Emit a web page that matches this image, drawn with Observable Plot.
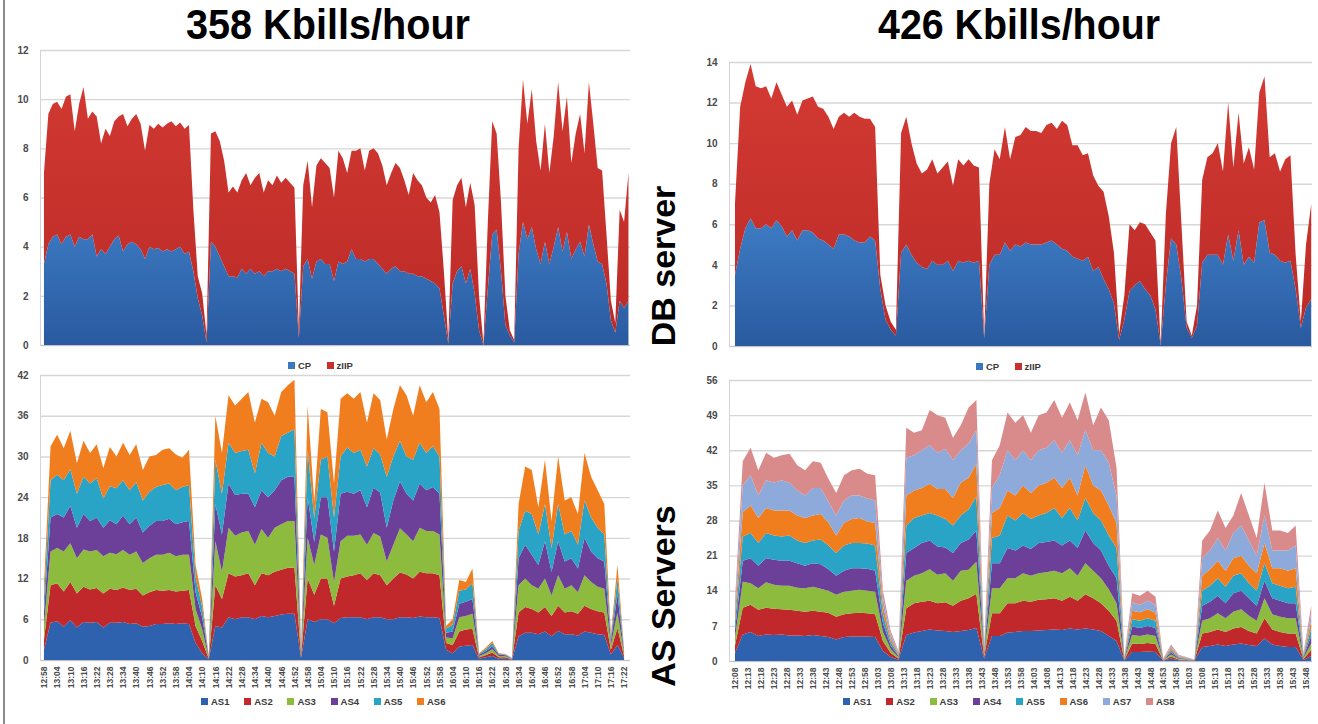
<!DOCTYPE html>
<html><head><meta charset="utf-8">
<script src="https://cdn.jsdelivr.net/npm/d3@7"></script>
<script src="https://cdn.jsdelivr.net/npm/@observablehq/plot@0.6"></script>
<style>
html,body{margin:0;padding:0;background:#fff;}
body{width:1318px;height:724px;overflow:hidden;position:relative;font-family:"Liberation Sans",Arial,sans-serif;}
.panel{position:absolute;}
.leg{position:absolute;height:12px;display:flex;align-items:center;font:bold 9.5px "Liberation Sans",Arial,sans-serif;color:#3a3a3a;white-space:nowrap;}
.leg span{display:inline-block;width:7px;height:7px;margin-right:3px;}
</style></head><body>
<div style="position:absolute;left:3px;top:0;width:1.5px;height:724px;background:#8c8c8c"></div>
<script>
// ---------------- DATA ----------------
const titles = ["358 Kbills/hour", "426 Kbills/hour"];
const rowLabels = ["DB server", "AS Servers"];
const dbSeries = ["CP", "zIIP"];
const asSeriesLeft = ["AS1","AS2","AS3","AS4","AS5","AS6"];
const asSeriesRight = ["AS1","AS2","AS3","AS4","AS5","AS6","AS7","AS8"];

// minutes between samples
const dbStep = 2, asStep = 3;

const leftTimeLabels = ["12:58","13:04","13:10","13:16","13:22","13:28","13:34","13:40","13:46","13:52","13:58","14:04","14:10","14:16","14:22","14:28","14:34","14:40","14:46","14:52","14:58","15:04","15:10","15:16","15:22","15:28","15:34","15:40","15:46","15:52","15:58","16:04","16:10","16:16","16:22","16:28","16:34","16:40","16:46","16:52","16:58","17:04","17:10","17:16","17:22"];
const rightTimeLabels = ["12:08","12:13","12:18","12:23","12:28","12:33","12:38","12:43","12:48","12:53","12:58","13:03","13:08","13:13","13:18","13:23","13:28","13:33","13:38","13:43","13:48","13:53","13:58","14:03","14:08","14:13","14:18","14:23","14:28","14:33","14:38","14:43","14:48","14:53","14:58","15:03","15:08","15:13","15:18","15:23","15:28","15:33","15:38","15:43","15:48"];

const yTicksDbLeft = [0,2,4,6,8,10,12];
const yTicksDbRight = [0,2,4,6,8,10,12,14];
const yTicksAsLeft = [0,6,12,18,24,30,36,42];
const yTicksAsRight = [0,7,14,21,28,35,42,49,56];

// DB server, 358 Kbills/hour (every 2 min from 12:58)
const dbLeftCP = [3.3,4.1,4.4,4.5,4.1,4.4,4.5,4.0,4.4,4.3, 4.3,4.5,3.6,3.9,3.7,4.0,4.3,4.45,3.8,4.1, 4.2,4.1,3.9,3.5,4.0,3.9,3.95,3.8,3.9,3.8, 3.9,4.0,3.7,3.8,3.0,1.9,1.2,0.1,4.2,4.0, 3.6,3.2,2.8,2.8,2.75,3.1,2.9,3.1,2.9,3.0, 2.8,3.0,3.0,3.1,3.0,3.1,3.0,2.9,0.3,3.2, 3.5,2.7,3.4,3.5,3.3,3.3,2.6,3.4,3.3,3.4, 3.9,3.5,3.5,3.4,3.5,3.5,3.3,3.1,2.9,3.1, 3.2,3.0,3.0,2.9,2.9,2.8,2.8,2.7,2.6,2.5, 2.3,1.2,0.05,2.5,3.0,3.2,2.5,3.1,2.1,0.6, 0,2.3,4.5,4.7,3.0,0.8,0.4,0.1,3.7,5.0, 4.3,4.8,3.9,3.3,4.2,3.3,4.0,4.8,3.8,4.6, 3.5,3.9,4.2,3.6,4.9,4.1,3.4,3.3,2.5,1.0, 0.5,1.8,1.5,1.8];
const dbLeftZIIP = [3.7,5.3,5.4,5.4,5.5,5.7,5.7,4.7,5.4,6.2, 4.9,5.0,5.7,4.3,5.1,4.5,4.8,4.85,5.6,4.8, 5.0,5.3,5.1,4.4,4.95,4.9,5.05,5.05,5.1,5.3, 5.0,5.05,5.1,5.15,2.5,0.9,0.9,0.3,4.4,4.7, 4.7,4.3,3.4,3.65,3.45,3.6,4.1,3.4,3.9,4.0, 3.4,3.7,3.5,3.8,3.6,3.7,3.6,3.5,0.3,3.3, 4.0,2.9,3.9,4.1,4.1,3.9,3.4,4.5,4.3,3.6, 4.0,4.4,4.5,3.7,4.4,4.5,4.5,4.2,3.6,3.9, 4.2,4.2,3.7,3.2,4.1,3.9,3.7,3.3,3.2,3.6, 3.1,1.8,0.15,3.4,3.5,3.6,3.1,3.5,3.6,1.4, 0.05,2.7,4.6,3.9,2.8,1.2,0.2,0.1,4.3,5.8, 4.7,5.6,4.4,3.8,4.8,3.7,4.5,5.9,4.9,5.5, 3.9,4.7,5.2,4.2,5.8,4.9,3.8,3.8,2.0,0.8, 0.4,3.7,3.5,5.2];

// DB server, 426 Kbills/hour (every 2 min from 12:08)
const dbRightCP = [3.5,4.8,5.8,6.3,5.8,5.8,6.0,5.8,6.2,5.9, 5.4,5.7,5.2,5.7,5.7,5.6,5.3,5.2,5.0,4.8, 5.5,5.5,5.4,5.2,5.1,5.1,5.4,5.2,2.8,1.3, 0.8,0.5,4.6,5.0,4.5,4.1,3.9,3.8,4.2,4.0, 4.0,4.2,3.7,4.2,4.1,4.2,4.1,4.2,0.4,4.0, 4.5,4.5,5.1,4.7,5.0,4.9,5.1,5.0,5.0,5.0, 5.1,5.2,5.0,4.8,4.7,4.4,4.3,4.2,4.4,3.7, 3.9,3.3,2.8,2.1,0.3,1.3,2.7,3.0,3.2,2.8, 2.5,1.8,0.05,3.0,5.3,5.0,3.3,0.9,0.4,1.0, 4.1,4.5,4.5,4.5,4.0,5.5,4.2,5.7,4.0,4.4, 4.1,6.1,6.2,4.6,4.5,4.2,4.1,4.2,2.8,0.9, 1.9,2.3];
const dbRightZIIP = [3.5,7.0,7.2,7.6,7.0,6.9,6.8,6.4,6.8,6.5, 6.4,6.4,6.2,6.4,6.5,6.7,6.5,6.5,6.3,5.9, 5.8,6.0,5.9,6.3,6.2,6.1,5.8,5.6,0.7,0.7, 0.4,0.3,5.9,6.3,5.5,4.9,4.6,4.9,5.0,4.5, 4.8,4.9,4.2,5.0,4.8,5.0,4.8,4.6,0.1,4.0, 5.2,4.7,5.7,4.5,5.3,5.5,5.7,5.6,5.6,5.5, 5.8,5.8,5.7,6.3,6.2,5.5,5.6,5.2,5.1,4.7, 4.0,4.3,3.6,2.5,0.3,1.2,3.3,2.7,2.9,3.2, 3.1,3.4,0.05,3.5,4.7,5.8,2.7,0.3,0.1,1.0, 4.1,4.8,5.0,5.5,4.6,6.5,4.6,5.8,5.0,5.4, 4.6,6.4,7.1,4.7,5.0,4.4,5.1,5.2,1.7,0.3, 3.1,4.7];

// AS servers, 358 Kbills/hour (every 3 min from 12:58)
const asL1 = [1.5,5.5,5.7,4.9,5.9,4.8,5.6,5.5,5.6,4.8, 5.5,5.5,5.6,5.3,5.4,4.9,5.0,5.3,5.3,5.4, 5.3,5.4,5.3,2.5,1.0,0.1,5.0,4.8,6.3,6.0, 6.3,6.3,6.0,6.5,6.3,6.5,6.7,6.8,6.8,0.3, 6.0,5.6,6.0,6.0,5.4,6.2,6.3,6.3,6.3,6.0, 6.3,6.3,6.0,6.0,6.3,6.3,6.2,6.4,6.3,6.3, 6.2,1.5,1.0,2.0,2.1,2.2,0.2,0.4,0.6,0.2, 0.2,0.05,3.5,4.0,4.0,3.8,4.2,3.5,4.3,3.8, 3.8,3.6,4.2,4.0,3.8,3.7,0.8,2.2,0.3];
const asL2 = [1.5,5.5,5.6,5.2,5.6,5.0,5.2,4.9,5.0,5.0, 5.0,4.8,5.1,5.0,5.1,4.6,5.0,5.0,4.9,4.9, 4.8,4.8,5.0,2.5,1.8,0.1,6.0,4.2,6.5,6.3, 6.2,6.5,5.0,6.3,6.2,6.5,6.6,6.8,6.8,0.3, 6.0,4.0,6.0,6.0,2.6,5.8,6.0,6.2,6.5,5.8, 6.5,6.2,5.0,6.0,6.6,6.3,5.8,6.6,6.5,6.5, 6.3,1.0,1.2,2.2,2.4,2.4,0.2,0.3,0.5,0.2, 0.2,0.05,3.5,3.8,3.5,3.2,3.6,3.0,3.7,3.2, 3.4,3.2,3.8,3.5,3.4,3.3,0.7,2.5,0.3];
const asL3 = [2.0,5.0,5.2,5.9,5.7,5.2,5.5,5.6,5.6,5.5, 5.3,5.3,5.5,5.2,5.5,4.8,5.0,5.2,5.3,5.5, 5.2,5.3,5.2,2.5,1.7,0.1,6.5,4.0,6.7,6.0, 6.3,6.2,6.0,6.5,5.5,6.5,6.7,6.9,6.9,0.3, 6.0,4.4,6.5,6.0,3.5,5.5,6.0,5.8,5.7,5.2, 5.9,5.7,3.5,5.0,6.5,5.9,5.5,6.5,6.2,6.2, 6.0,0.8,1.0,2.1,2.0,2.2,0.2,0.3,0.5,0.2, 0.15,0.05,4.0,4.2,3.5,3.5,4.2,3.0,4.5,3.5, 3.8,3.2,4.5,4.0,3.6,3.5,0.7,2.3,0.3];
const asL4 = [2.0,5.0,5.0,5.0,5.5,4.5,5.2,4.5,4.8,4.2, 4.8,4.4,5.1,4.5,5.0,4.5,4.8,5.0,5.0,5.0, 4.7,4.8,5.0,2.5,1.8,0.1,5.5,5.5,6.5,6.0, 5.7,5.5,5.5,5.7,6.0,5.5,6.5,6.5,6.5,0.2, 6.0,3.4,5.5,6.0,4.5,7.0,6.5,6.2,6.5,5.5, 6.7,6.5,5.0,6.5,6.9,6.0,6.0,6.5,6.0,6.5, 6.0,0.7,1.0,2.0,2.1,2.2,0.2,0.3,0.4,0.2, 0.15,0.05,4.0,5.0,4.5,3.5,5.5,3.5,5.0,4.0, 4.0,3.5,5.5,4.5,4.2,4.0,0.6,2.6,0.2];
const asL5 = [2.0,5.5,5.8,5.5,5.4,5.0,5.5,5.5,5.8,4.3, 5.0,5.3,5.2,5.0,5.2,4.7,5.0,5.0,5.3,5.2, 5.0,5.2,5.3,2.2,1.5,0.05,6.5,6.0,6.0,6.2, 6.3,6.5,5.0,7.0,6.5,5.0,6.5,6.5,7.0,0.2, 7.0,3.5,5.5,6.0,5.0,5.5,6.5,6.0,6.0,6.0, 5.8,5.6,7.5,6.5,6.0,5.5,6.0,6.0,5.5,6.0, 5.5,0.6,1.0,1.9,1.8,2.3,0.1,0.3,0.5,0.1, 0.1,0.05,4.0,5.0,6.0,4.5,5.5,3.5,5.5,4.0, 4.0,3.5,5.5,5.0,4.5,4.0,0.5,2.4,0.2];
const asL6 = [2.0,5.0,5.9,4.7,5.7,4.5,5.3,4.5,5.0,4.5, 5.8,4.7,5.5,5.2,5.6,4.5,5.2,4.7,5.2,5.2, 5.3,4.3,5.2,1.8,1.2,0.05,6.5,6.0,7.0,7.0, 7.7,8.5,7.5,6.5,7.5,6.0,6.5,7.0,7.3,0.2, 6.5,2.4,7.5,6.5,5.0,8.5,8.0,8.0,8.5,6.5, 8.1,8.0,5.5,7.0,8.2,9.0,6.5,8.5,7.5,8.0, 7.0,0.4,0.8,1.6,1.1,2.2,0.1,0.2,0.3,0.1, 0.1,0.05,4.0,6.5,6.5,4.0,6.5,4.0,7.0,5.0, 5.0,4.5,7.0,6.0,5.5,4.5,0.5,2.0,0.2];

// AS servers, 426 Kbills/hour (every 3 min from 12:08)
const asR1 = [1.6,5.3,5.8,5.0,5.3,5.2,5.3,5.1,5.1,5.0, 5.2,5.0,4.8,4.3,4.8,4.9,4.9,4.9,4.8,2.0, 0.8,0.25,5.2,5.7,6.0,6.3,6.1,6.0,5.8,6.0, 6.2,6.6,0.5,5.0,5.0,5.7,5.8,6.0,6.0,6.1, 6.2,6.3,6.2,6.5,6.3,6.5,6.3,6.0,5.0,4.0, 0.1,1.8,1.8,1.9,1.8,0.06,0.5,0.15,0.1,0.04, 2.8,3.0,3.3,3.0,3.3,3.5,3.2,3.0,4.5,3.3, 3.0,2.8,2.8,0.2,1.0];
const asR2 = [1.5,5.3,5.4,5.2,5.3,5.2,5.0,5.1,4.9,4.8, 4.8,4.8,4.8,4.5,4.5,4.6,4.7,4.6,4.5,2.0, 0.8,0.25,5.3,5.8,5.8,5.7,5.4,5.7,5.2,6.0, 6.3,6.8,0.4,4.5,4.5,5.8,5.7,6.0,5.8,6.1, 6.1,6.2,5.8,6.3,5.7,6.8,6.2,5.5,5.0,4.0, 0.1,1.7,1.6,1.7,1.6,0.06,0.4,0.15,0.1,0.04, 2.7,2.8,3.0,2.8,3.2,3.3,2.8,2.5,4.0,3.0, 2.8,2.7,2.7,0.2,1.2];
const asR3 = [1.5,5.2,4.3,4.3,5.1,4.8,4.7,4.8,4.6,4.7, 4.8,4.6,4.4,4.4,4.5,4.5,4.6,4.5,4.5,1.8, 0.8,0.25,5.5,5.5,5.7,6.3,5.7,5.8,5.0,6.0, 5.7,6.4,0.4,5.0,5.0,5.0,5.0,5.5,5.2,5.3, 5.4,5.5,5.5,5.7,5.0,6.2,5.5,5.0,4.3,3.5, 0.1,1.7,1.6,1.7,1.6,0.06,0.4,0.15,0.1,0.04, 2.5,2.7,3.2,2.7,3.3,3.5,3.0,2.5,4.0,3.0, 3.0,3.0,3.0,0.2,1.3];
const asR4 = [1.5,4.2,5.0,4.5,4.8,5.0,5.0,5.0,4.9,4.5, 4.7,4.9,4.3,3.8,4.2,4.5,4.3,4.4,4.2,1.7, 0.7,0.25,5.5,5.5,6.0,5.7,5.6,5.1,5.5,5.5, 6.0,6.2,0.4,5.0,5.0,6.0,5.5,5.5,5.3,6.0, 6.0,6.0,5.5,5.5,5.5,6.5,5.5,5.5,4.7,5.0, 0.1,1.7,1.6,1.7,1.6,0.06,0.4,0.15,0.1,0.04, 3.0,3.3,3.5,3.0,3.7,3.7,3.5,3.0,3.5,3.2, 3.2,3.0,3.0,0.2,1.5];
const asR5 = [1.5,4.8,5.0,4.5,5.0,4.8,4.8,5.0,4.5,4.5, 4.5,4.9,4.7,4.5,5.0,5.0,5.0,5.0,5.0,1.8, 0.7,0.25,5.5,6.0,5.5,5.5,6.2,5.7,5.5,5.5, 6.0,6.8,0.4,5.0,5.5,6.5,6.0,6.5,6.0,5.5, 5.8,6.5,5.5,6.5,5.5,6.5,6.0,6.0,6.0,6.0, 0.1,1.4,1.4,1.5,1.4,0.06,0.4,0.15,0.1,0.04, 3.0,3.2,3.5,3.3,3.5,3.5,3.0,3.0,3.5,3.0, 3.0,3.0,3.3,0.2,1.5];
const asR6 = [1.5,4.8,5.5,5.0,5.0,5.0,5.2,5.0,5.0,5.0, 5.0,5.1,4.6,3.5,4.5,4.8,5.0,4.4,4.5,1.7, 0.7,0.25,6.0,5.5,5.5,5.8,5.3,6.0,5.5,6.5, 6.3,6.5,0.3,5.0,5.5,5.0,5.0,5.5,5.2,6.0, 6.0,6.0,6.0,6.0,5.0,6.5,5.5,6.0,6.0,5.0, 0.1,1.7,1.7,1.8,1.6,0.06,0.4,0.15,0.1,0.04, 3.0,3.3,3.5,3.2,3.5,3.5,3.5,3.5,4.0,3.0, 3.5,3.5,3.7,0.2,1.5];
const asR7 = [1.5,5.4,6.0,4.5,5.5,5.5,6.0,5.5,5.0,4.5, 5.5,5.2,4.2,4.0,4.5,4.7,4.5,4.6,4.5,1.6, 0.8,0.25,7.5,7.0,7.5,7.7,7.2,8.0,7.5,6.5, 6.8,6.7,0.3,5.0,6.5,8.0,7.0,7.0,6.5,7.0, 7.0,7.5,7.0,7.5,8.0,7.0,7.0,8.0,8.5,5.5, 0.1,1.7,1.5,1.7,1.6,0.06,0.4,0.15,0.1,0.04, 3.5,3.7,4.5,4.0,5.0,6.0,5.0,3.5,5.5,3.5, 3.5,4.0,4.5,0.2,1.5];
const asR8 = [1.4,4.8,5.5,5.0,5.5,5.0,5.0,5.8,5.0,5.0, 5.3,5.0,4.5,4.5,5.0,5.0,5.3,4.9,5.0,1.4, 0.7,0.25,6.0,4.5,4.0,7.0,7.5,6.2,4.5,5.0, 7.2,6.0,0.3,5.5,6.0,7.5,7.5,7.0,5.5,7.0, 7.0,8.0,7.0,7.5,7.0,7.5,5.0,8.5,8.5,5.5, 0.1,1.8,1.8,2.0,1.6,0.06,0.4,0.15,0.1,0.04, 3.5,4.0,5.5,4.5,3.5,6.5,5.0,3.5,6.5,4.0, 4.0,3.5,4.0,0.2,1.5];

// ---------------- STYLE ----------------
const dbColors = ["#3a78c2", "#c8302c"];
const asColors = ["#2f62ae","#c0282b","#8dbb3e","#6c3f98","#29a3c6","#f07e1f","#8eaadb","#d98b8c"];
const font = "'Liberation Sans', Arial, sans-serif";

// ---------------- HELPERS ----------------
const toMin = s => { const [h, m] = s.split(":").map(Number); return h * 60 + m; };
function rowsOf(names, arrays, step) {
  const rows = [];
  arrays[0].forEach((_, i) => names.forEach((n, k) => rows.push({t: i * step, s: n, v: arrays[k][i]})));
  return rows;
}
const NS = "http://www.w3.org/2000/svg";
function addGradient(svg, id, stops, y1, y2) {
  let defs = svg.querySelector("defs");
  if (!defs) { defs = document.createElementNS(NS, "defs"); svg.insertBefore(defs, svg.firstChild); }
  const g = document.createElementNS(NS, "linearGradient");
  g.setAttribute("id", id); g.setAttribute("gradientUnits", "userSpaceOnUse");
  g.setAttribute("x1", 0); g.setAttribute("x2", 0); g.setAttribute("y1", y1); g.setAttribute("y2", y2);
  for (const [o, c] of stops) { const s = document.createElementNS(NS, "stop"); s.setAttribute("offset", o); s.setAttribute("stop-color", c); g.appendChild(s); }
  defs.appendChild(g);
}
function place(node, left, top) {
  const d = document.createElement("div");
  d.className = "panel"; d.style.left = left + "px"; d.style.top = top + "px";
  d.appendChild(node); document.body.appendChild(d);
}
function legend(names, colors, x0, yc, step) {
  names.forEach((n, i) => {
    const it = document.createElement("div");
    it.className = "leg";
    it.style.left = (x0 + i * step) + "px"; it.style.top = (yc - 6) + "px";
    it.innerHTML = `<span style="background:${colors[i]}"></span>${n}`;
    document.body.appendChild(it);
  });
}

function dbChart(id, cp, ziip, yTicks, xDomain, dims) {
  const {width, height, ml, mr, mt, mb} = dims;
  const svg = Plot.plot({
    width, height, marginLeft: ml, marginRight: mr, marginTop: mt, marginBottom: mb,
    style: {fontFamily: font, fontWeight: "bold", color: "#4a4a4a", background: "transparent"},
    x: {domain: xDomain, axis: null},
    y: {domain: [0, d3.max(yTicks)], axis: null},
    color: {domain: dbSeries, range: [`url(#${id}-cp)`, `url(#${id}-z)`]},
    marks: [
      Plot.gridY(yTicks, {stroke: "#d6d6d6", strokeOpacity: 1, strokeWidth: 1.4}),
      Plot.areaY(rowsOf(dbSeries, [cp, ziip], dbStep), {x: "t", y: "v", fill: "s"}),
      Plot.ruleY([0], {stroke: "#c4c4c4", strokeWidth: 1.2}),
      Plot.frame({anchor: "left", stroke: "#d4d4d4"}),
      Plot.axisY(yTicks, {tickSize: 0, tickPadding: 12, fontSize: 10, label: null})
    ]
  });
  addGradient(svg, id + "-cp", [[0, "#4c8ad1"], [0.55, "#3d7cc4"], [1, "#2a5aa0"]], mt, height - mb);
  addGradient(svg, id + "-z", [[0, "#d43a33"], [1, "#bb2a27"]], mt, height - mb);
  return svg;
}

function asChart(names, arrays, yTicks, xDomain, timeLabels, dims) {
  const {width, height, ml, mr, mt, mb} = dims;
  const t0 = toMin(timeLabels[0]);
  const tickMin = timeLabels.map(s => toMin(s) - t0);
  const lab = new Map(tickMin.map((m, i) => [m, timeLabels[i]]));
  return Plot.plot({
    width, height, marginLeft: ml, marginRight: mr, marginTop: mt, marginBottom: mb,
    style: {fontFamily: font, fontWeight: "bold", color: "#4a4a4a", background: "transparent"},
    x: {domain: xDomain, axis: null},
    y: {domain: [0, d3.max(yTicks)], axis: null},
    color: {domain: names, range: asColors.slice(0, names.length)},
    marks: [
      Plot.gridY(yTicks, {stroke: "#d6d6d6", strokeOpacity: 1, strokeWidth: 1.4}),
      Plot.areaY(rowsOf(names, arrays, asStep), {x: "t", y: "v", fill: "s"}),
      Plot.ruleY([0], {stroke: "#c4c4c4", strokeWidth: 1.2}),
      Plot.frame({anchor: "left", stroke: "#d4d4d4"}),
      Plot.axisY(yTicks, {tickSize: 0, tickPadding: 12, fontSize: 10, label: null}),
      Plot.axisX(tickMin, {tickSize: 0, tickPadding: 6, tickRotate: -90, fontSize: 8.5, label: null, tickFormat: d => lab.get(d)})
    ]
  });
}

// ---------------- CHARTS ----------------
const xDomLeft = [-1.8, 266.7], xDomRight = [-2.3, 222.3];

place(dbChart("dl", dbLeftCP, dbLeftZIIP, yTicksDbLeft, xDomLeft,
  {width: 640, height: 320, ml: 40, mr: 10, mt: 10, mb: 15}), 0, 40);
place(asChart(asSeriesLeft, [asL1, asL2, asL3, asL4, asL5, asL6], yTicksAsLeft, xDomLeft, leftTimeLabels,
  {width: 640, height: 340, ml: 40, mr: 10, mt: 10, mb: 45}), 0, 365);
place(dbChart("dr", dbRightCP, dbRightZIIP, yTicksDbRight, xDomRight,
  {width: 628, height: 310, ml: 39, mr: 6, mt: 12, mb: 14}), 690, 50);
place(asChart(asSeriesRight, [asR1, asR2, asR3, asR4, asR5, asR6, asR7, asR8], yTicksAsRight, xDomRight, rightTimeLabels,
  {width: 628, height: 335, ml: 39, mr: 6, mt: 10, mb: 44}), 690, 370);

legend(dbSeries, dbColors, 288, 365, 38.5);
legend(dbSeries, dbColors, 976, 366, 38.5);
legend(asSeriesLeft, asColors, 201, 701, 43.2);
legend(asSeriesRight, asColors, 843, 701, 43.3);

// ---------------- TEXT OVERLAY ----------------
const ov = document.createElementNS(NS, "svg");
ov.setAttribute("width", 1318); ov.setAttribute("height", 724);
ov.style.cssText = "position:absolute;left:0;top:0;pointer-events:none";
function txt(str, attrs) {
  const t = document.createElementNS(NS, "text");
  for (const k in attrs) t.setAttribute(k, attrs[k]);
  t.textContent = str; ov.appendChild(t);
}
const common = {"font-family": font, "font-weight": "bold", fill: "#000", "text-anchor": "middle"};
txt(titles[0], {...common, x: 328, y: 39, "font-size": 42, textLength: 284, lengthAdjust: "spacingAndGlyphs"});
txt(titles[1], {...common, x: 1019, y: 39, "font-size": 42, textLength: 282, lengthAdjust: "spacingAndGlyphs"});
txt(rowLabels[0], {...common, x: 675, y: 266, "font-size": 34, transform: "rotate(-90 675 266)"});
txt(rowLabels[1], {...common, x: 675, y: 596, "font-size": 34, transform: "rotate(-90 675 596)"});
document.body.appendChild(ov);
</script>
</body></html>
